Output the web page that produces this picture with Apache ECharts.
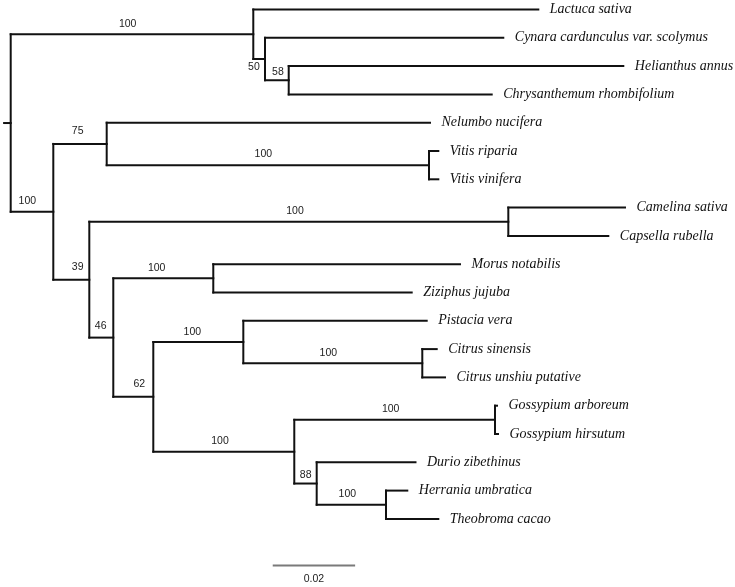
<!DOCTYPE html>
<html>
<head>
<meta charset="utf-8">
<script src="https://cdn.jsdelivr.net/npm/echarts@6/dist/echarts.min.js"></script>
<style>html,body{margin:0;padding:0;background:#fff;}#chart{width:735px;height:587px;}</style>
</head>
<body>
<div id="chart"></div>
<script>
// ---------- DATA ----------
// leaves, top to bottom (row index = position in list)
var leafNames = [
  'Lactuca sativa', 'Cynara cardunculus var. scolymus', 'Helianthus annus',
  'Chrysanthemum rhombifolium', 'Nelumbo nucifera', 'Vitis riparia', 'Vitis vinifera',
  'Camelina sativa', 'Capsella rubella', 'Morus notabilis', 'Ziziphus jujuba',
  'Pistacia vera', 'Citrus sinensis', 'Citrus unshiu putative', 'Gossypium arboreum',
  'Gossypium hirsutum', 'Durio zibethinus', 'Herrania umbratica', 'Theobroma cacao'
];
// distance from the root (substitutions per site)
var leafDepths = [
  0.12806, 0.11956, 0.14869, 0.11675, 0.10177, 0.10379, 0.10379,
  0.14910, 0.14505, 0.10905, 0.09733, 0.10097, 0.10340, 0.10541,
  0.11803, 0.11828, 0.09825, 0.09626, 0.10379
];
// internal nodes: name, distance from root, children (leaf index or internal name), bootstrap
var nodeNames    = ['root', 'A', 'B', 'C', 'Nbig', 'N75', 'V', 'N39', 'Cam', 'N46', 'Mor', 'N62', 'Pis', 'Cit', 'Mal', 'Gos', 'N88', 'Her'];
var nodeDepths   = [0, 0.05888, 0.06172, 0.06748, 0.01034, 0.02330, 0.10153, 0.01908, 0.12078, 0.02490, 0.04917, 0.03461, 0.05646, 0.09990, 0.06883, 0.11755, 0.07427, 0.09109];
var nodeChildren = [
  ['A', 'Nbig'], [0, 'B'], [1, 'C'], [2, 3], ['N75', 'N39'], [4, 'V'], [5, 6],
  ['Cam', 'N46'], [7, 8], ['Mor', 'N62'], [9, 10], ['Pis', 'Mal'], [11, 'Cit'],
  [12, 13], ['Gos', 'N88'], [14, 15], [16, 'Her'], [17, 18]
];
var nodeSupport  = [null, 100, 50, 58, 100, 75, 100, 39, 100, 46, 100, 62, 100, 100, 100, 100, 88, 100];
var rootStub = -0.0016;
var scaleBarLength = 0.02;
var scaleBarLabel = '0.02';

// ---------- STYLE / PLACEMENT (pixels) ----------
var supportNudge = { // [dx, dy] from midpoint of the incoming branch
  A: [-4.3, -10.4], B: [-5.2, 8], C: [1.1, -8], Nbig: [-4.7, -10.7], N75: [-2.3, -13],
  V: [-4.5, -11], N39: [6.4, -12.7], Cam: [-3.8, -11], N46: [-0.6, -11.7], Mor: [-6.6, -10.5],
  N62: [6, -12.4], Pis: [-6, -10.3], Cit: [-4.5, -10.5], Mal: [-3.8, -10.8], Gos: [-4, -10.7],
  N88: [0.2, -8.6], Her: [-4, -10.7]
};
var scaleBarStart = 0.0636;   // x where the scale bar starts (distance units)
var scaleBarRow = 19.65;      // row position of the scale bar

// ---------- BUILD TREE GEOMETRY ----------
var nodeIdx = {};
nodeNames.forEach(function (n, i) { nodeIdx[n] = i; });
function depthOf(c) { return typeof c === 'number' ? leafDepths[c] : nodeDepths[nodeIdx[c]]; }
var yCache = {};
function rowOf(c) {
  if (typeof c === 'number') return c;
  if (yCache[c] !== undefined) return yCache[c];
  var ch = nodeChildren[nodeIdx[c]];
  var v = (rowOf(ch[0]) + rowOf(ch[ch.length - 1])) / 2;
  yCache[c] = v;
  return v;
}
var segments = [];   // [x1, y1, x2, y2]
var supportData = []; // [xMid, y, text, nodeName]
var rootRow = rowOf('root');
segments.push([rootStub, rootRow, 0, rootRow]);
nodeNames.forEach(function (n, i) {
  var x = nodeDepths[i];
  var ch = nodeChildren[i];
  segments.push([x, rowOf(ch[0]), x, rowOf(ch[ch.length - 1])]);
  ch.forEach(function (c) {
    var cy = rowOf(c);
    segments.push([x, cy, depthOf(c), cy]);
    if (typeof c !== 'number') {
      var k = nodeIdx[c];
      supportData.push([(x + nodeDepths[k]) / 2, cy, String(nodeSupport[k]), c]);
    }
  });
});
var leafData = leafNames.map(function (name, i) { return [leafDepths[i], i, name]; });

// ---------- CHART ----------
var pxPerUnit = 4120, rowPx = 28.3;
var xMin = -10.7 / pxPerUnit, yMin = -9.5 / rowPx;
var chart = echarts.init(document.getElementById('chart'), null, { renderer: 'canvas' });
chart.setOption({
  backgroundColor: '#ffffff',
  animation: false,
  grid: { left: 0, right: 0, top: 0, bottom: 0 },
  xAxis: { type: 'value', min: xMin, max: xMin + 735 / pxPerUnit, show: false },
  yAxis: { type: 'value', inverse: true, min: yMin, max: yMin + 587 / rowPx, show: false },
  series: [
    {
      type: 'custom',
      data: segments,
      silent: true,
      renderItem: function (params, api) {
        var p1 = api.coord([api.value(0), api.value(1)]);
        var p2 = api.coord([api.value(2), api.value(3)]);
        return {
          type: 'line',
          shape: { x1: p1[0], y1: p1[1], x2: p2[0], y2: p2[1] },
          style: { stroke: '#111111', lineWidth: 2, lineCap: 'square' }
        };
      }
    },
    {
      type: 'custom',
      data: leafData,
      silent: true,
      renderItem: function (params, api) {
        var p = api.coord([api.value(0), api.value(1)]);
        return {
          type: 'text',
          x: p[0] + 11.5,
          y: p[1],
          style: {
            text: leafData[params.dataIndex][2],
            fill: '#111111',
            font: 'italic 14px "Liberation Serif", "Times New Roman", serif',
            align: 'left', verticalAlign: 'middle',
            textAlign: 'left', textVerticalAlign: 'middle'
          }
        };
      }
    },
    {
      type: 'custom',
      data: supportData,
      silent: true,
      renderItem: function (params, api) {
        var d = supportData[params.dataIndex];
        var p = api.coord([d[0], d[1]]);
        var nud = supportNudge[d[3]] || [-4, -10.7];
        return {
          type: 'text',
          x: p[0] + nud[0],
          y: p[1] + nud[1],
          style: {
            text: d[2],
            fill: '#222222',
            font: '10.5px "Liberation Sans", Arial, sans-serif',
            align: 'center', verticalAlign: 'middle',
            textAlign: 'center', textVerticalAlign: 'middle'
          }
        };
      }
    },
    {
      type: 'custom',
      data: [[scaleBarStart, scaleBarRow, scaleBarStart + scaleBarLength, scaleBarLabel]],
      silent: true,
      renderItem: function (params, api) {
        var p1 = api.coord([api.value(0), api.value(1)]);
        var p2 = api.coord([api.value(2), api.value(1)]);
        return {
          type: 'group',
          children: [
            { type: 'line', shape: { x1: p1[0], y1: p1[1], x2: p2[0], y2: p2[1] },
              style: { stroke: '#7a7a7a', lineWidth: 2 } },
            { type: 'text', x: (p1[0] + p2[0]) / 2, y: p1[1] + 13.5,
              style: { text: scaleBarLabel, fill: '#222222',
                font: '10.5px "Liberation Sans", Arial, sans-serif',
                align: 'center', verticalAlign: 'middle', textAlign: 'center', textVerticalAlign: 'middle' } }
          ]
        };
      }
    }
  ]
});
</script>
</body>
</html>
